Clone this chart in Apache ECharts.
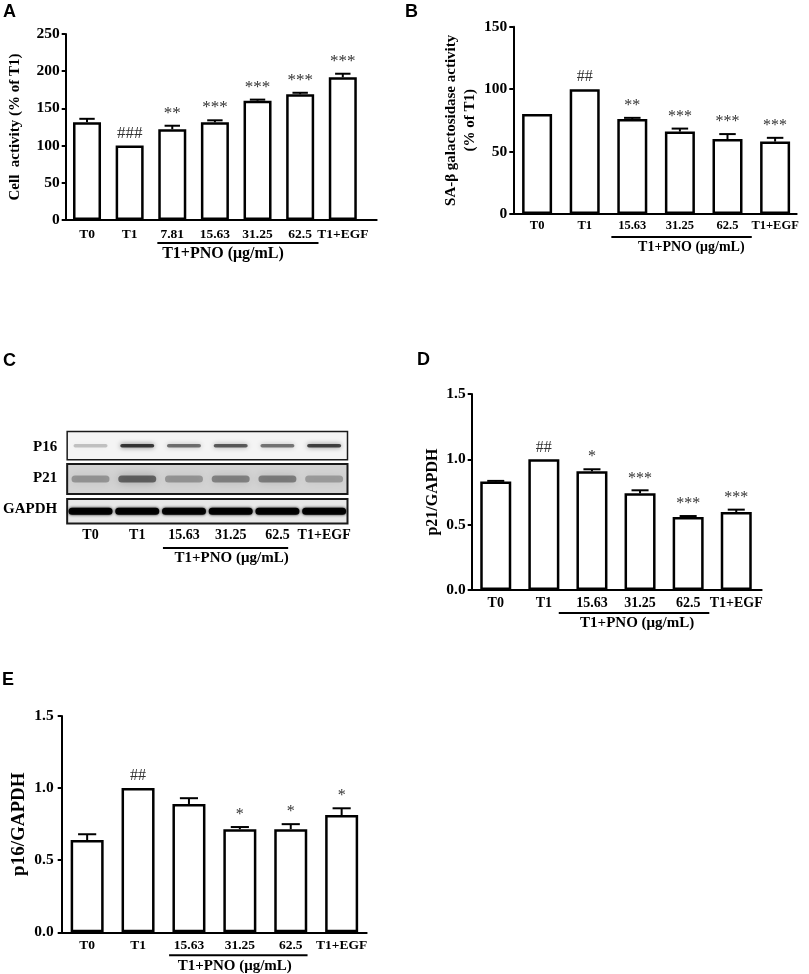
<!DOCTYPE html>
<html><head><meta charset="utf-8">
<script src="https://cdn.jsdelivr.net/npm/echarts@6/dist/echarts.min.js"></script>
<style>html,body{margin:0;padding:0;background:#fff}#c{width:809px;height:974px}</style>
</head><body><div id="c"></div>
<script>
// ---------- data ----------
const catsA = ['T0', 'T1', '7.81', '15.63', '31.25', '62.5', 'T1+EGF'];
const meanA = [131.5, 100, 122, 131.3, 160.3, 169, 191.8];
const errA  = [4.5, 0, 4.7, 2.7, 1.5, 2, 4.8];
const sigA  = ['', '###', '**', '***', '***', '***', '***'];

const catsB = ['T0', 'T1', '15.63', '31.25', '62.5', 'T1+EGF'];
const meanB = [80, 100, 76, 66, 60, 58];
const errB  = [0, 0, 1, 2.4, 4, 3];
const sigB  = ['', '##', '**', '***', '***', '***'];

const catsC = ['T0', 'T1', '15.63', '31.25', '62.5', 'T1+EGF'];
const blotRows = ['P16', 'P21', 'GAPDH'];
const p16Band   = [0.2, 0.72, 0.5, 0.58, 0.48, 0.68];
const p21Band   = [0.28, 0.5, 0.28, 0.36, 0.38, 0.25];
const gapdhBand = [0.97, 0.97, 0.95, 0.97, 0.97, 0.97];

const catsD = ['T0', 'T1', '15.63', '31.25', '62.5', 'T1+EGF'];
const meanD = [0.83, 1.0, 0.908, 0.74, 0.559, 0.597];
const errD  = [0.005, 0, 0.016, 0.023, 0.007, 0.018];
const sigD  = ['', '##', '*', '***', '***', '***'];

const catsE = ['T0', 'T1', '15.63', '31.25', '62.5', 'T1+EGF'];
const meanE = [0.64, 1.0, 0.89, 0.715, 0.715, 0.813];
const errE  = [0.04, 0, 0.04, 0.015, 0.035, 0.047];
const sigE  = ['', '##', '', '*', '*', '*'];

const groupLabel = 'T1+PNO (μg/mL)';
const pnoRange = [2, 4];      // first/last PNO category index (B-E)
const pnoRangeA = [2, 5];

// ---------- style ----------
const SERIF = "'Liberation Serif','Times New Roman',serif";
const SANS = "'Liberation Sans',Arial,sans-serif";

const grids = [], xAxes = [], yAxes = [], series = [];

function addPanel(cfg) {
  const k = grids.length;
  grids.push({left: cfg.left, top: cfg.top, width: cfg.width, height: cfg.height, containLabel: false});
  xAxes.push({
    gridIndex: k, type: 'value', min: -0.5, max: -0.5 + cfg.width / cfg.slot,
    splitLine: {show: false},
    axisLine: {show: true, onZero: false, lineStyle: {color: '#000', width: 2}},
    axisTick: {show: false},
    axisLabel: {
      customValues: cfg.cats.map((c, i) => i),
      formatter: v => cfg.cats[Math.round(v)] || '',
      color: '#000', fontFamily: SERIF, fontWeight: 'bold', fontSize: cfg.catSize, margin: cfg.catMargin
    }
  });
  yAxes.push({
    gridIndex: k, type: 'value', min: 0, max: cfg.yMax, interval: cfg.yInt,
    name: cfg.name, nameLocation: 'middle', nameGap: cfg.nameGap,
    nameTextStyle: {color: '#000', fontFamily: SERIF, fontWeight: 'bold', fontSize: cfg.nameSize, lineHeight: cfg.nameLH || cfg.nameSize * 1.2},
    splitLine: {show: false},
    axisLine: {show: true, onZero: false, lineStyle: {color: '#000', width: 2}},
    axisTick: {show: true, length: 4, lineStyle: {color: '#000', width: 2}},
    axisLabel: {color: '#000', fontFamily: SERIF, fontWeight: 'bold', fontSize: cfg.tickSize, margin: cfg.tickMargin,
      formatter: cfg.fmt}
  });
  series.push({
    type: 'bar', xAxisIndex: k, yAxisIndex: k, barWidth: cfg.barW, silent: true, z: 2,
    data: cfg.cats.map((c, i) => [i, cfg.mean[i]]),
    itemStyle: {color: '#fff', borderColor: '#000', borderWidth: 2.5}
  });
  series.push({
    type: 'custom', xAxisIndex: k, yAxisIndex: k, silent: true, z: 3, clip: false,
    data: cfg.cats.map((c, i) => [i, cfg.mean[i], cfg.err[i]]),
    encode: {x: 0, y: 1},
    renderItem: (params, api) => {
      const i = api.value(0), m = api.value(1), e = api.value(2);
      const base = api.coord([i, m]);
      const top = api.coord([i, m + e]);
      const cw = cfg.barW * 0.55;
      const ch = [];
      if (e > 0) {
        ch.push({type: 'line', shape: {x1: base[0], y1: base[1], x2: top[0], y2: top[1]}, style: {stroke: '#000', lineWidth: 2}});
        ch.push({type: 'line', shape: {x1: top[0] - cw / 2, y1: top[1], x2: top[0] + cw / 2, y2: top[1]}, style: {stroke: '#000', lineWidth: 2}});
      }
      const s = cfg.sig[params.dataIndex];
      if (s) ch.push({type: 'text', x: top[0], y: top[1] - 4,
        style: {text: s, fill: '#333', font: `${cfg.sigSize}px ${SERIF}`, align: 'center', verticalAlign: 'bottom'}});
      return {type: 'group', children: ch};
    }
  });
  addBracket(k, cfg.range, cfg.br, cfg.brFont);
}

function addBracket(k, range, br, font) {
  series.push({
    type: 'custom', xAxisIndex: k, yAxisIndex: k, silent: true, clip: false, z: 3,
    data: [[range[0], 0, range[1]]],
    encode: {x: 0, y: 1},
    renderItem: (params, api) => {
      const cs = params.coordSys;
      const p1 = api.coord([api.value(0), 0]);
      const p2 = api.coord([api.value(2), 0]);
      const slot = api.size([1, 0])[0];
      const y = cs.y + cs.height + 23;
      return {type: 'group', children: [
        {type: 'line', shape: {x1: p1[0] + br[0] * slot, y1: y, x2: p2[0] + br[1] * slot, y2: y}, style: {stroke: '#000', lineWidth: 2}},
        {type: 'text', x: p1[0] + br[2] * slot, y: y + 3,
          style: {text: groupLabel, fill: '#000', font: `bold ${font}px ${SERIF}`, align: 'center', verticalAlign: 'top'}}
      ]};
    }
  });
}

const fmtInt = v => String(v);
const fmt1 = v => v.toFixed(1);

addPanel({left: 65.7, top: 34, width: 311, height: 186, slot: 42.63, cats: catsA, mean: meanA, err: errA, sig: sigA,
  yMax: 250, yInt: 50, fmt: fmtInt, name: 'Cell  activity (% of T1)', nameGap: 42, nameSize: 15,
  tickSize: 15.5, tickMargin: 6, catSize: 13.5, catMargin: 8, barW: 28, sigSize: 17,
  range: pnoRangeA, br: [-0.35, 0.43, 1.19], brFont: 16});
addPanel({left: 513.3, top: 26.7, width: 283.4, height: 187.3, slot: 47.6, cats: catsB, mean: meanB, err: errB, sig: sigB,
  yMax: 150, yInt: 50, fmt: fmtInt, name: 'SA-β galactosidase activity\n(% of T1)', nameGap: 34, nameSize: 15, nameLH: 19,
  tickSize: 15.5, tickMargin: 6, catSize: 12.5, catMargin: 5, barW: 30, sigSize: 16,
  range: pnoRange, br: [-0.44, 0.51, 1.24], brFont: 14});
addPanel({left: 471.7, top: 394, width: 290, height: 196, slot: 48.1, cats: catsD, mean: meanD, err: errD, sig: sigD,
  yMax: 1.5, yInt: 0.5, fmt: fmt1, name: 'p21/GAPDH', nameGap: 27, nameSize: 16,
  tickSize: 15.5, tickMargin: 6, catSize: 14, catMargin: 6, barW: 31, sigSize: 16,
  range: pnoRange, br: [-0.69, 0.44, 0.94], brFont: 15});
addPanel({left: 61.7, top: 716, width: 305, height: 216.3, slot: 50.9, cats: catsE, mean: meanE, err: errE, sig: sigE,
  yMax: 1.5, yInt: 0.5, fmt: fmt1, name: 'p16/GAPDH', nameGap: 28, nameSize: 19,
  tickSize: 15.5, tickMargin: 8, catSize: 13.5, catMargin: 6, barW: 33, sigSize: 16,
  range: pnoRange, br: [-0.39, 0.33, 0.9], brFont: 15});

// ---------- blot panel C ----------
const kc = grids.length;
grids.push({left: 67, top: 431, width: 280.5, height: 94, containLabel: false});
xAxes.push({gridIndex: kc, type: 'category', data: catsC, boundaryGap: true,
  axisLine: {show: false}, axisTick: {show: false}, splitLine: {show: false},
  axisLabel: {interval: 0, hideOverlap: false, color: '#000', fontFamily: SERIF, fontWeight: 'bold', fontSize: 14, margin: 3}});
yAxes.push({gridIndex: kc, type: 'category', data: blotRows, inverse: true,
  axisLine: {show: false}, axisTick: {show: false}, splitLine: {show: false},
  axisLabel: {interval: 0, color: '#000', fontFamily: SERIF, fontWeight: 'bold', fontSize: 15, margin: 10}});

const rowFill = ['#f4f4f4', '#d3d3d3', '#e8e8e8'];
const rowH = [0.9, 0.95, 0.78];
const rowShift = [-1, 1, 2];
const bandW = [34, 38, 44];
const bandH = [3.5, 7, 7];
const bandBlur = [5, 9, 3];

series.push({
  type: 'custom', xAxisIndex: kc, yAxisIndex: kc, silent: true, clip: false, z: 1,
  data: blotRows.map((r, j) => [0, j]),
  renderItem: (params, api) => {
    const cs = params.coordSys;
    const j = api.value(1);
    const c = api.coord([0, j]);
    const h = api.size([0, 1])[1] * rowH[j];
    return {type: 'rect', shape: {x: cs.x, y: c[1] + rowShift[j] - h / 2, width: cs.width, height: h},
      style: {fill: rowFill[j], stroke: '#1a1a1a', lineWidth: j === 0 ? 1.5 : 2}};
  }
});
const bandData = [];
[p16Band, p21Band, gapdhBand].forEach((arr, j) => arr.forEach((v, i) => bandData.push([i, j, v])));
series.push({
  type: 'custom', xAxisIndex: kc, yAxisIndex: kc, silent: true, clip: false, z: 2,
  data: bandData,
  renderItem: (params, api) => {
    const i = api.value(0), j = api.value(1), v = api.value(2);
    const c = api.coord([i, j]);
    const w = bandW[j], h = bandH[j];
    const col = `rgba(0,0,0,${v})`;
    return {type: 'rect', shape: {x: c[0] - w / 2, y: c[1] + rowShift[j] - h / 2, width: w, height: h, r: h / 2},
      style: {fill: col, shadowBlur: bandBlur[j], shadowColor: col}};
  }
});
addBracket(kc, pnoRange, [-0.45, 0.23, 1.02], 15);

// ---------- panel letters ----------
const letters = [['A', 3, 3], ['B', 405, 3], ['C', 3, 352], ['D', 417, 351], ['E', 2, 671]];
const graphic = letters.map(([t, x, y]) => ({type: 'text', left: x, top: y,
  style: {text: t, fill: '#000', font: `bold 18px ${SANS}`}}));

const chart = echarts.init(document.getElementById('c'), null, {renderer: 'canvas'});
chart.setOption({
  animation: false, backgroundColor: '#fff',
  grid: grids, xAxis: xAxes, yAxis: yAxes, series: series, graphic: graphic
});
</script></body></html>
